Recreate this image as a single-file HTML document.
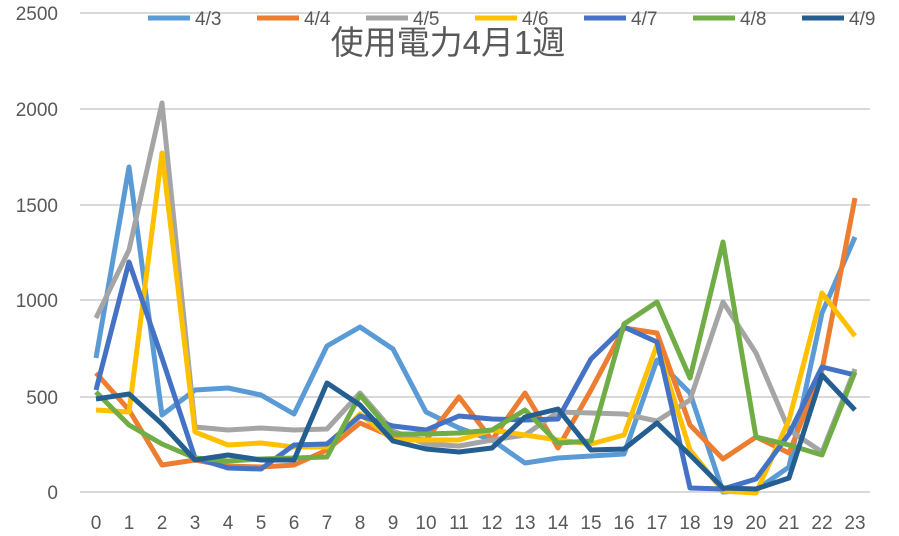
<!DOCTYPE html>
<html><head><meta charset="utf-8"><style>body{margin:0;background:#fff}svg{display:block}text{font-family:"Liberation Sans","Noto Sans CJK JP",sans-serif;fill:#595959}</style></head><body>
<svg width="899" height="536" viewBox="0 0 899 536">
<g stroke="#d9d9d9" stroke-width="2">
<line x1="80" x2="870" y1="13" y2="13"/><line x1="80" x2="870" y1="109" y2="109"/><line x1="80" x2="870" y1="205" y2="205"/><line x1="80" x2="870" y1="300" y2="300"/><line x1="80" x2="870" y1="397" y2="397"/><line x1="80" x2="870" y1="492" y2="492"/></g>
<g font-size="19" text-anchor="end">
<text x="58" y="20">2500</text><text x="58" y="116">2000</text><text x="58" y="212">1500</text><text x="58" y="307">1000</text><text x="58" y="404">500</text><text x="58" y="499">0</text></g>
<g font-size="19" text-anchor="middle" id="xl"></g>
<g fill="none" stroke-width="5" stroke-linejoin="round" id="ln"></g>
<text x="448" y="54" font-size="33" text-anchor="middle">使用電力4月1週</text>
<g id="lg" font-size="19"></g>
</svg>
<script>
var ns="http://www.w3.org/2000/svg";
var xl=document.getElementById('xl');
for(var i=0;i<24;i++){var t=document.createElementNS(ns,'text');t.setAttribute('x',96+33*i);t.setAttribute('y',529);t.textContent=i;xl.appendChild(t);}
var S=[
["#5B9BD5",[358,167,415,390,388,395,414,346,327,349,412,428,440,463,458,456,454,360,393,492,490,467,313,237]],
["#ED7D31",[373,410,465,460,466,467,465,450,423,437,440,397,440,393,448,390,328,333,425,459,437,453,370,198]],
["#A5A5A5",[318,250,103,427,430,428,430,429,393,431,444,446,440,435,412,413,414,421,400,302,353,430,452,369]],
["#FFC000",[410,412,153,432,445,443,447,447,414,440,440,440,430,435,440,444,435,345,450,491,493,420,293,336]],
["#4472C4",[390,262,358,458,468,469,445,444,416,426,430,416,419,420,419,359,327,342,488,489,479,434,367,375]],
["#70AD47",[392,425,444,458,461,459,458,457,395,434,434,433,430,410,443,441,324,302,378,242,437,445,455,372]],
["#255E91",[399,394,424,460,455,460,460,383,405,441,449,452,448,417,409,450,449,423,455,488,489,478,375,410]]];
var ln=document.getElementById('ln'),lg=document.getElementById('lg');
var names=["4/3","4/4","4/5","4/6","4/7","4/8","4/9"];
S.forEach(function(s,k){var p=document.createElementNS(ns,'polyline');p.setAttribute('stroke',s[0]);
p.setAttribute('points',s[1].map(function(y,i){return (96+33*i)+','+y}).join(' '));ln.appendChild(p);
var x0=148+109*k;var l=document.createElementNS(ns,'line');l.setAttribute('x1',x0);l.setAttribute('x2',x0+42);l.setAttribute('y1',18);l.setAttribute('y2',18);l.setAttribute('stroke',s[0]);l.setAttribute('stroke-width',5);lg.appendChild(l);
var t=document.createElementNS(ns,'text');t.setAttribute('x',x0+47);t.setAttribute('y',25);t.textContent=names[k];lg.appendChild(t);});
</script>
</body></html>
